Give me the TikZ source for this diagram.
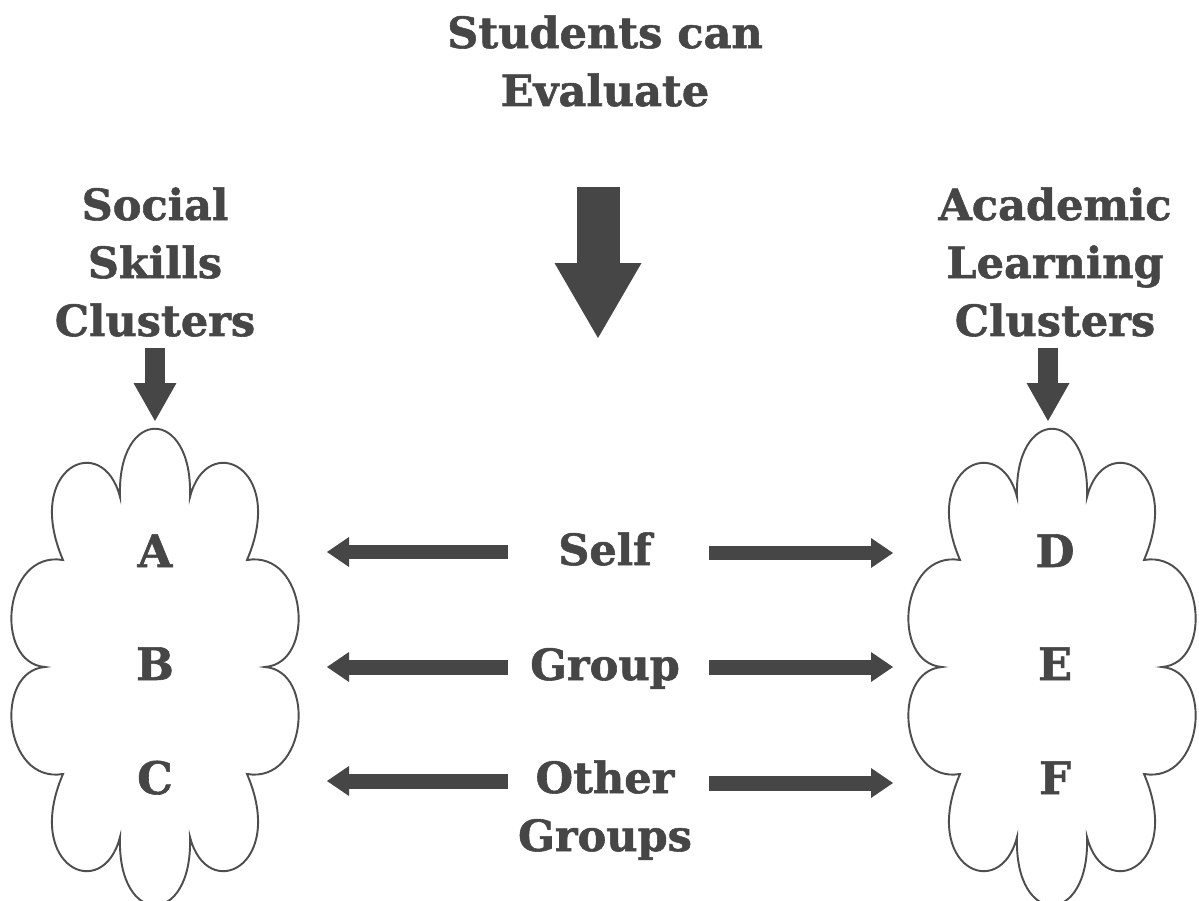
\documentclass[tikz,border=0pt]{standalone}
\usepackage{fontspec}
\setmainfont{DejaVu Serif}[BoldFont={DejaVu Serif Bold}, BoldFeatures={FakeBold=1.3}]
\usetikzlibrary{arrows.meta}
\definecolor{ink}{HTML}{464646}
\definecolor{cloudline}{HTML}{4E4E4E}
\tikzset{
  lbl/.style={font=\fontsize{24.5}{33}\selectfont\bfseries, text=ink, inner sep=0pt, align=center},
  letter/.style={font=\fontsize{25.5}{30}\selectfont\bfseries, text=ink, inner sep=0pt},
  harrow/.style={draw=ink, line width=0.30cm, -{Triangle[width=0.60cm,length=0.44cm,line width=0pt]}},
  smallarrow/.style={draw=ink, line width=0.40cm, -{Triangle[width=0.86cm,length=0.76cm,line width=0pt]}},
  bigarrow/.style={draw=ink, line width=0.86cm, -{Triangle[width=1.74cm,length=1.50cm,line width=0pt]}},
  cloudpath/.style={draw=cloudline, line width=1.1pt, fill=white},
  cloudshape/.pic={
    \draw[cloudpath] (-92,-107)
      .. controls (-132,-200) and (-52,-237) .. (-35,-170)
      .. controls (-38,-261) and (38,-261) .. (35,-170)
      .. controls (52,-237) and (132,-200) .. (92,-107)
      .. controls (152,-117) and (162,-4) .. (110,0)
      .. controls (162,4) and (152,117) .. (92,107)
      .. controls (132,200) and (52,237) .. (35,170)
      .. controls (38,261) and (-38,261) .. (-35,170)
      .. controls (-52,237) and (-132,200) .. (-92,107)
      .. controls (-152,117) and (-162,4) .. (-110,0)
      .. controls (-162,-4) and (-152,-117) .. (-92,-107) -- cycle;
  }
}
\begin{document}
\begin{tikzpicture}[x=0.02cm,y=-0.02cm]
\path[use as bounding box] (0,0) rectangle (1199,901);
\clip (0,0) rectangle (1199,901);
\fill[white] (0,0) rectangle (1199,901);

% clouds
\pic at (155,667) {cloudshape};
\pic at (1052,667) {cloudshape};

% headings (base anchor = baseline of the last line)
\node[lbl, anchor=base] (title) at (605,106) {Students can\\Evaluate};
\node[lbl, anchor=base] (social) at (155,336) {Social\\Skills\\Clusters};
\node[lbl, anchor=base] (academic) at (1055,336) {Academic\\Learning\\Clusters};

% middle labels
\node[lbl, anchor=base] (self) at (605,565) {Self};
\node[lbl, anchor=base] (group) at (605,680) {Group};
\node[lbl, anchor=base] (other) at (605,851) {Other\\Groups};

% letters
\node[letter, anchor=base] (A) at (155,567) {A};
\node[letter, anchor=base] (B) at (155,680) {B};
\node[letter, anchor=base] (C) at (155,794) {C};
\node[letter, anchor=base] (D) at (1055,567) {D};
\node[letter, anchor=base] (E) at (1055,680) {E};
\node[letter, anchor=base] (F) at (1055,794) {F};

% arrow anchor coordinates
\coordinate (bigS) at (598,187);   \coordinate (bigE) at (598,338);
\coordinate (slS) at (155,348);    \coordinate (slE) at (155,421);
\coordinate (srS) at (1048,348);   \coordinate (srE) at (1048,421);
\coordinate (selfL) at (508,552);  \coordinate (selfLt) at (327,552);
\coordinate (selfR) at (709,553);  \coordinate (selfRt) at (893,553);
\coordinate (groupL) at (508,667); \coordinate (groupLt) at (327,667);
\coordinate (groupR) at (709,667); \coordinate (groupRt) at (893,667);
\coordinate (otherL) at (508,781); \coordinate (otherLt) at (327,781);
\coordinate (otherR) at (709,783); \coordinate (otherRt) at (893,783);

\draw[bigarrow] (bigS) -- (bigE);
\draw[smallarrow] (slS) -- (slE);
\draw[smallarrow] (srS) -- (srE);
\draw[harrow] (selfL) -- (selfLt);
\draw[harrow] (selfR) -- (selfRt);
\draw[harrow] (groupL) -- (groupLt);
\draw[harrow] (groupR) -- (groupRt);
\draw[harrow] (otherL) -- (otherLt);
\draw[harrow] (otherR) -- (otherRt);
\end{tikzpicture}
\end{document}
